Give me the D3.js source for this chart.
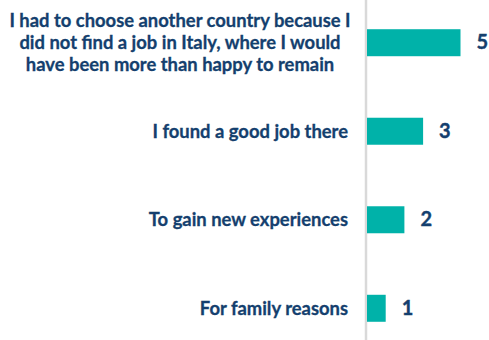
<!DOCTYPE html>
<html><head><meta charset="utf-8">
<script src="https://cdn.jsdelivr.net/npm/d3@7"></script>
<style>html,body{margin:0;padding:0;background:#fff;}</style>
</head><body>
<svg id="chart" width="489" height="340"></svg>
<script>
const categories = [
  ["I had to choose another country because I", "did not find a job in Italy, where I would", "have been more than happy to remain"],
  ["I found a good job there"],
  ["To gain new experiences"],
  ["For family reasons"]
];
const values = [5, 3, 2, 1];

const svg = d3.select("#chart");
const x0 = 366, xUnit = 18.7;
const x = d3.scaleLinear().domain([0, 5]).range([x0, x0 + 5 * xUnit]);
const y = d3.scaleBand().domain(d3.range(values.length)).range([-1.5, 352.5]).paddingInner(0.695).paddingOuter(0.347);

const navy = "#143f6e", teal = "#00b2a9";

svg.append("line").attr("x1", x0).attr("x2", x0).attr("y1", 0).attr("y2", 340)
  .attr("stroke", "#d9d9d9").attr("stroke-width", 2.5);

svg.selectAll("rect.bar").data(values).join("rect").attr("class", "bar")
  .attr("x", x(0) + 1).attr("y", (d, i) => y(i))
  .attr("width", d => x(d) - x(0)).attr("height", y.bandwidth())
  .attr("fill", teal);

svg.selectAll("text.val").data(values).join("text").attr("class", "val")
  .attr("x", d => x(d) + 17).attr("y", (d, i) => y(i) + y.bandwidth() / 2)
  .attr("dy", "0.33em")
  .attr("font-family", "Lato").attr("font-weight", 700).attr("font-size", 20)
  .attr("fill", navy).attr("stroke", navy).attr("stroke-width", 0.4).text(d => d);

const lh = 22;
categories.forEach((lines, i) => {
  const cy = y(i) + y.bandwidth() / 2;
  const t = svg.append("text").attr("text-anchor", lines.length > 1 ? "middle" : "end")
    .attr("font-family", "Lato").attr("font-weight", 700).attr("font-size", 18.4)
    .attr("fill", navy).attr("stroke", navy).attr("stroke-width", 0.3);
  lines.forEach((l, j) => {
    t.append("tspan").attr("x", lines.length > 1 ? 180 : 348)
      .attr("y", cy + (j - (lines.length - 1) / 2) * lh).attr("dy", "0.35em").text(l);
  });
});
</script>
</body></html>
